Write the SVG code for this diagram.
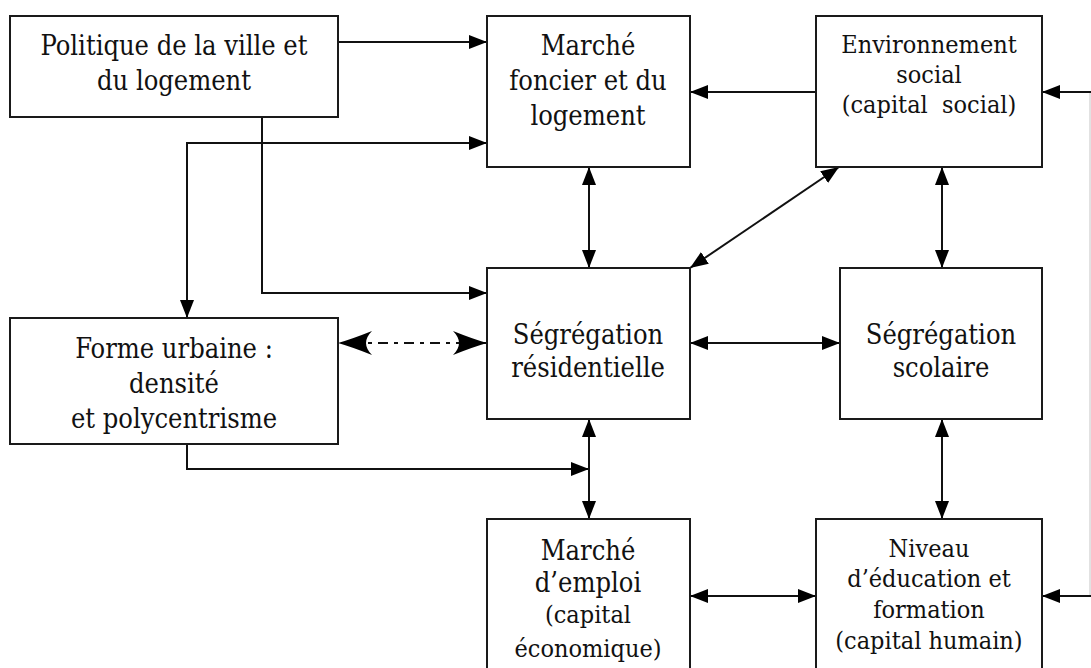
<svg xmlns="http://www.w3.org/2000/svg" width="1091" height="668" viewBox="0 0 1091 668">
<defs>
<style>
.box{fill:#fff;stroke:#1a1a1a;stroke-width:2}
.c{fill:none;stroke:#111;stroke-width:2}
.t{font-family:'DejaVu Serif Condensed','DejaVu Serif',serif;font-stretch:condensed;font-size:27px;fill:#111;text-anchor:middle}
.s{font-size:25px}
</style>
<marker id="ah" markerUnits="userSpaceOnUse" markerWidth="18" markerHeight="14" refX="18" refY="7" orient="auto-start-reverse" viewBox="0 0 18 14">
<path d="M0,0 L18,7 L0,14 z" fill="#000"/>
</marker>
<marker id="bh" markerUnits="userSpaceOnUse" markerWidth="34" markerHeight="24" refX="34" refY="12" orient="auto-start-reverse" viewBox="0 0 34 24">
<path d="M0,0 Q20,8 34,12 Q20,16 0,24 Q12,12 0,0 z" fill="#000"/>
</marker>
</defs>
<rect width="1091" height="668" fill="#fff"/>
<g id="connectors">
<path class="c" d="M338,42 H487" marker-end="url(#ah)"/>
<path class="c" d="M262,117 V293 H487" marker-end="url(#ah)"/>
<path class="c" d="M487,143 H187 V318" marker-start="url(#ah)" marker-end="url(#ah)"/>
<path class="c" d="M816,92 H690" marker-end="url(#ah)"/>
<path d="M1090,92 V596" fill="none" stroke="#d8d8d8" stroke-width="1.5"/>
<path class="c" d="M1091,92 H1042" marker-end="url(#ah)"/>
<path class="c" d="M1091,596 H1042" marker-end="url(#ah)"/>
<path class="c" d="M589,167 V268" marker-start="url(#ah)" marker-end="url(#ah)"/>
<path class="c" d="M942,167 V268" marker-start="url(#ah)" marker-end="url(#ah)"/>
<path class="c" d="M839,167 L690,268" marker-start="url(#ah)" marker-end="url(#ah)"/>
<path class="c" d="M690,343 H840" marker-start="url(#ah)" marker-end="url(#ah)"/>
<path class="c" d="M338,343 H487" stroke-dasharray="4,6,10,6" stroke-dashoffset="-30" stroke-width="3" marker-start="url(#bh)" marker-end="url(#bh)"/>
<path class="c" d="M187,444 V469 H589" marker-end="url(#ah)"/>
<path class="c" d="M589,419 V519" marker-start="url(#ah)" marker-end="url(#ah)"/>
<path class="c" d="M690,596 H816" marker-start="url(#ah)" marker-end="url(#ah)"/>
<path class="c" d="M942,419 V519" marker-start="url(#ah)" marker-end="url(#ah)"/>
</g>
<g id="politique">
<rect class="box" x="10" y="16" width="328" height="101"/>
<text class="t" x="174" y="55">Politique de la ville et</text>
<text class="t" x="174" y="90">du logement</text>
</g>
<g id="marche-foncier">
<rect class="box" x="487" y="16" width="203" height="151"/>
<text class="t" x="588" y="55">Marché</text>
<text class="t" x="588" y="90">foncier et du</text>
<text class="t" x="588" y="125">logement</text>
</g>
<g id="environnement">
<rect class="box" x="816" y="16" width="226" height="151"/>
<text class="t s" x="929" y="53">Environnement</text>
<text class="t s" x="929" y="83">social</text>
<text class="t s" x="929" y="113" style="white-space:pre">(capital  social)</text>
</g>
<g id="forme">
<rect class="box" x="10" y="318" width="328" height="126"/>
<text class="t" x="174" y="358">Forme urbaine :</text>
<text class="t" x="174" y="393">densité</text>
<text class="t" x="174" y="428">et polycentrisme</text>
</g>
<g id="segregation-residentielle">
<rect class="box" x="487" y="268" width="203" height="151"/>
<text class="t" x="588" y="344">Ségrégation</text>
<text class="t" x="588" y="377">résidentielle</text>
</g>
<g id="segregation-scolaire">
<rect class="box" x="840" y="268" width="202" height="151"/>
<text class="t" x="941" y="344">Ségrégation</text>
<text class="t" x="941" y="377">scolaire</text>
</g>
<g id="marche-emploi">
<rect class="box" x="487" y="519" width="203" height="165"/>
<text class="t" x="588" y="560">Marché</text>
<text class="t" x="588" y="592">d’emploi</text>
<text class="t s" x="588" y="623">(capital</text>
<text class="t s" x="588" y="657">économique)</text>
</g>
<g id="niveau">
<rect class="box" x="816" y="519" width="226" height="165"/>
<text class="t s" x="929" y="557">Niveau</text>
<text class="t s" x="929" y="587">d’éducation et</text>
<text class="t s" x="929" y="618">formation</text>
<text class="t s" x="929" y="649">(capital humain)</text>
</g>
</svg>
